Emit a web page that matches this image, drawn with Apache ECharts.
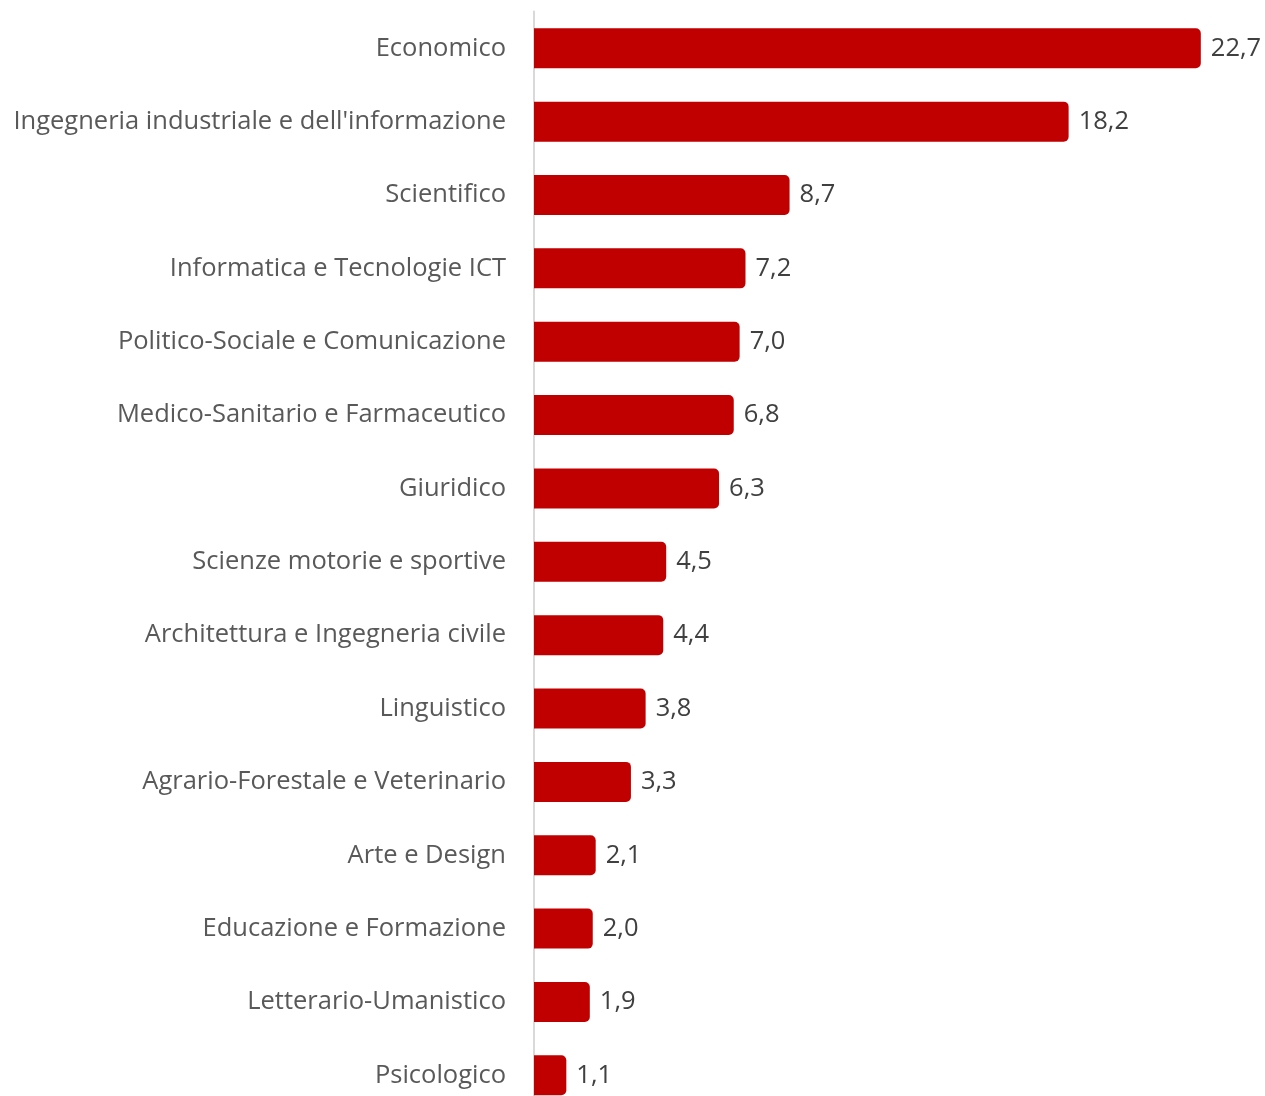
<!DOCTYPE html>
<html>
<head>
<meta charset="utf-8">
<script src="https://cdn.jsdelivr.net/npm/echarts@6/dist/echarts.min.js"></script>
<style>html,body{margin:0;padding:0;background:#fff;overflow:hidden;width:1265px;height:1096px}#c{width:1265px;height:1112px}</style>
</head>
<body>
<div id="c"></div>
<script>
const categories = [
  "Economico",
  "Ingegneria industriale e dell'informazione",
  "Scientifico",
  "Informatica e Tecnologie ICT",
  "Politico-Sociale e Comunicazione",
  "Medico-Sanitario e Farmaceutico",
  "Giuridico",
  "Scienze motorie e sportive",
  "Architettura e Ingegneria civile",
  "Linguistico",
  "Agrario-Forestale e Veterinario",
  "Arte e Design",
  "Educazione e Formazione",
  "Letterario-Umanistico",
  "Psicologico"
];
const values = [22.7, 18.2, 8.7, 7.2, 7.0, 6.8, 6.3, 4.5, 4.4, 3.8, 3.3, 2.1, 2.0, 1.9, 1.1];

const chart = echarts.init(document.getElementById('c'), null, {renderer: 'canvas'});
const FONT = '"Open Sans"';
chart.setOption({
  animation: false,
  grid: {left: 534, top: 11.6, bottom: 0, width: 705, containLabel: false},
  xAxis: {type: 'value', min: 0, max: 24, show: false},
  yAxis: {
    type: 'category', data: categories, inverse: true,
    axisLine: {show: true, lineStyle: {color: '#d9d9d9', width: 2}},
    axisTick: {show: false},
    axisLabel: {color: '#595959', fontSize: 25.5, fontFamily: FONT, margin: 28, padding: [4, 0, 0, 0]}
  },
  series: [{
    type: 'bar', data: values, barWidth: 40,
    itemStyle: {color: '#C00000', borderRadius: [0, 5, 5, 0]},
    label: {show: true, position: 'right', distance: 10, color: '#404040', fontSize: 25.5, fontFamily: FONT,
      padding: [4, 0, 0, 0],
      formatter: p => p.value.toFixed(1).replace('.', ',')}
  }]
});
</script>
</body>
</html>
